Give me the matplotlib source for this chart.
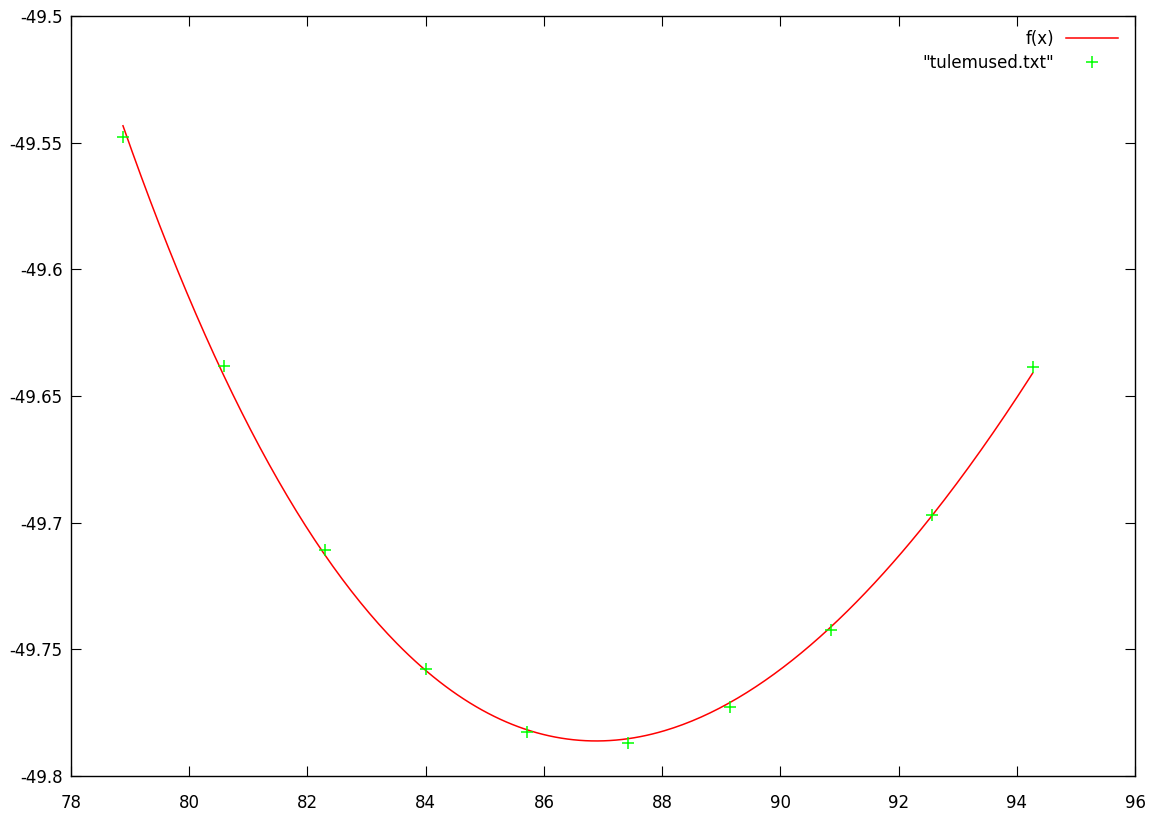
import matplotlib.pyplot as plt
import numpy as np

# points read from "tulemused.txt"
x_data = [78.88, 80.59, 82.30, 84.01, 85.72, 87.43, 89.14, 90.85, 92.56, 94.28]
y_data = [-49.5479, -49.6382, -49.7108, -49.7578, -49.7828,
          -49.7869, -49.7728, -49.7424, -49.6970, -49.6387]

# f(x) curve, positions
f_x = [78.879, 80.592, 81.364, 82.577, 84.00, 84.915, 85.929, 86.943,
       87.958, 88.296, 89.14, 91.001, 92.556, 93.03, 94.269]
f_y = [-49.5434, -49.6418, -49.6779, -49.7227, -49.7574, -49.7737, -49.7832,
       -49.7862, -49.7823, -49.7796, -49.7724, -49.7378, -49.6970, -49.6832,
       -49.6411]

x_ticks = [78, 80, 82, 84, 86, 88, 90, 92, 94, 96]
y_ticks = [-49.8, -49.75, -49.7, -49.65, -49.6, -49.55, -49.5]
y_labels = ["-49.8", "-49.75", "-49.7", "-49.65", "-49.6", "-49.55", "-49.5"]


def main() -> None:
    plt.rcParams["font.family"] = ["DejaVu Sans"]
    fig = plt.figure(figsize=(11.55, 8.23), dpi=100)
    ax = fig.add_axes([0.0615, 0.0571, 0.9212, 0.9235])

    # smooth line through the sampled f(x) positions
    fx = np.array(f_x)
    x0 = fx.mean()
    coef = np.polyfit(fx - x0, f_y, 4)
    xs = np.linspace(fx.min(), fx.max(), 300)
    ax.plot(xs, np.polyval(coef, xs - x0), color="#ff0000", lw=1.1, label="f(x)")
    ax.plot(x_data, y_data, ls="none", marker="+", ms=8, mew=1.1,
            color="#00ff00", label='"tulemused.txt"')

    ax.set_xlim(78, 96)
    ax.set_ylim(-49.8, -49.5)
    ax.set_xticks(x_ticks)
    ax.set_yticks(y_ticks)
    ax.set_yticklabels(y_labels)
    ax.tick_params(direction="in", length=7.5, width=0.8, top=True, right=True,
                   labelsize=12, pad=6)
    ax.tick_params(axis="x", pad=13)
    for sp in ax.spines.values():
        sp.set_linewidth(1.0)

    ax.legend(loc="upper right", bbox_to_anchor=(0.998, 1.0016), frameon=False,
              markerfirst=False, fontsize=12, handlelength=3.1,
              handletextpad=0.7, labelspacing=0.35)

    fig.savefig("out.png", dpi=100)
    plt.close(fig)


if __name__ == "__main__":
    main()
